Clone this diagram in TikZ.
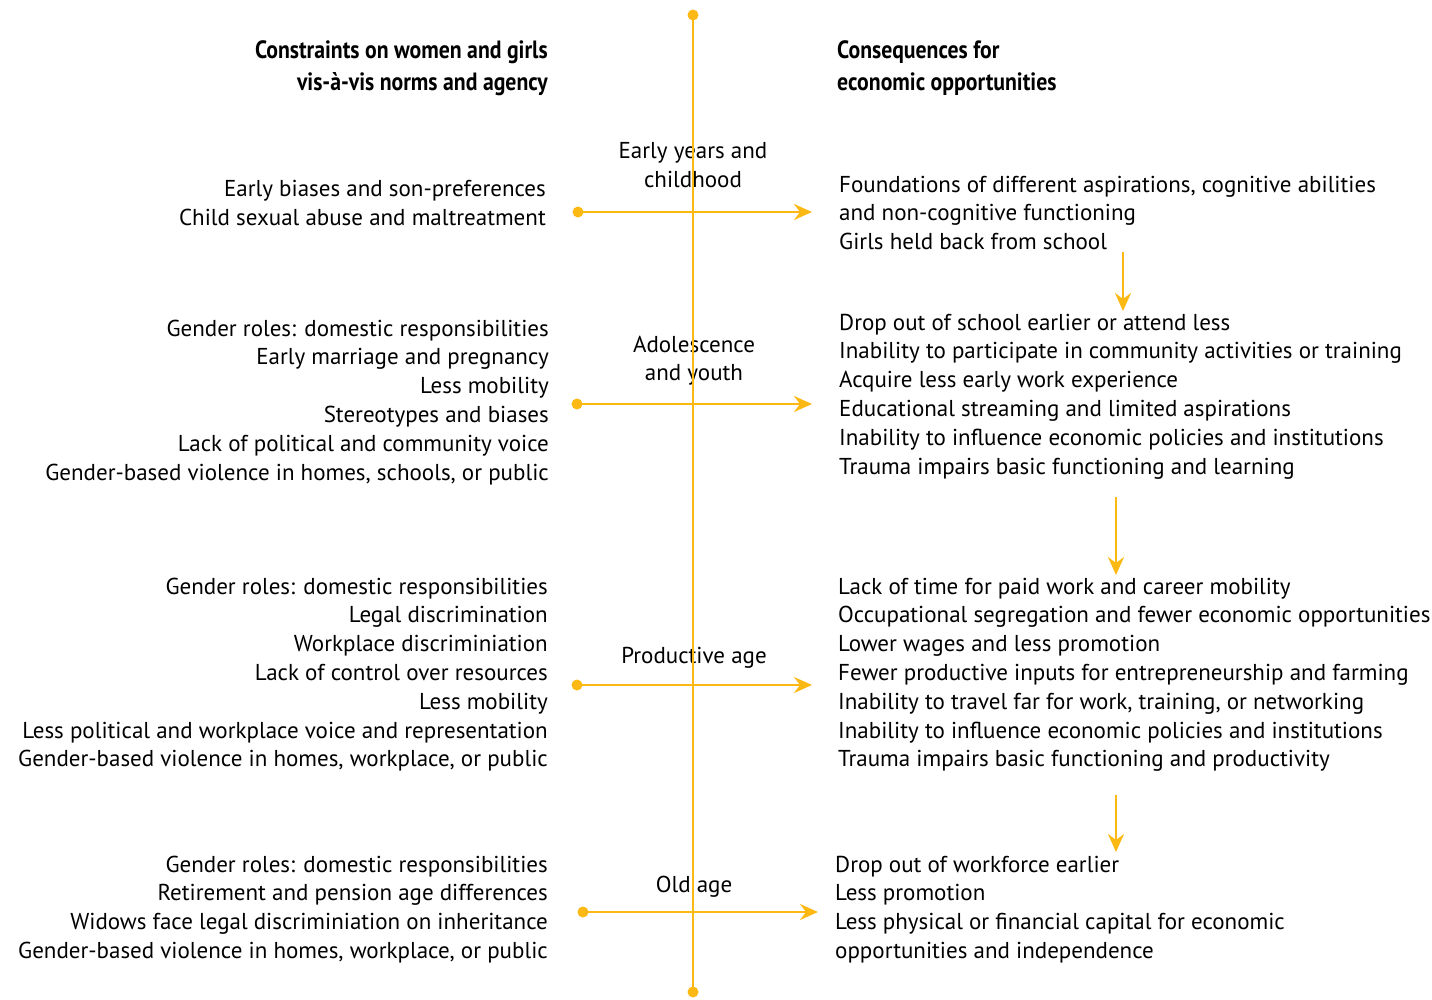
\documentclass[tikz,border=0pt]{standalone}
\usepackage{fontspec}
\setmainfont{PT Sans}
\newfontfamily\headfont[FakeStretch=0.87]{PT Sans}
\usetikzlibrary{arrows.meta}
\definecolor{gold}{RGB}{253,185,19}
\tikzset{
  txt/.style={inner sep=0pt, font=\fontsize{23}{28}\selectfont},
  lt/.style={txt, anchor=base east},
  rt/.style={txt, anchor=base west},
  stage/.style={txt, anchor=base},
  headl/.style={inner sep=0pt, anchor=base east, font=\headfont\bfseries\fontsize{25}{30}\selectfont},
  headr/.style={inner sep=0pt, anchor=base west, font=\headfont\bfseries\fontsize{25}{30}\selectfont},
  axis/.style={draw=gold, line width=2.6pt},
  arr/.style={axis, -{Stealth[length=18pt, width=16pt, inset=6pt]}},
  dot/.style={circle, fill=gold, inner sep=0pt, minimum size=11pt},
}
\begin{document}
\begin{tikzpicture}[x=1pt, y=-1pt]
\useasboundingbox (0,0) rectangle (1432,999);
% headers
\node[headl] (hl1) at (548,58) {Constraints on women and girls};
\node[headl] (hl2) at (548,90) {vis-à-vis norms and agency};
\node[headr] (hr1) at (837,58) {Consequences for};
\node[headr] (hr2) at (837,90) {economic opportunities};
% stage labels
\node[stage] (s1a) at (693,158) {Early years and};
\node[stage] (s1b) at (693,187) {childhood};
\node[stage] (s2a) at (694,352) {Adolescence};
\node[stage] (s2b) at (694,380) {and youth};
\node[stage] (s3) at (694,663) {Productive age};
\node[stage] (s4) at (694,892) {Old age};
% left texts
\foreach \t [count=\i from 0] in {{Early biases and son-preferences},{Child sexual abuse and maltreatment}}
  \node[lt] (La-\i) at ({546},{196.5+28.8*\i}) {\t};
\foreach \t [count=\i from 0] in {{Gender roles: domestic responsibilities},{Early marriage and pregnancy},{Less mobility},{Stereotypes and biases},{Lack of political and community voice},{Gender-based violence in homes, schools, or public}}
  \node[lt] (Lb-\i) at ({549},{336+28.8*\i}) {\t};
\foreach \t [count=\i from 0] in {{Gender roles: domestic responsibilities},{Legal discrimination},{Workplace discriminiation},{Lack of control over resources},{Less mobility},{Less political and workplace voice and representation},{Gender-based violence in homes, workplace, or public}}
  \node[lt] (Lc-\i) at ({548},{594+28.83*\i}) {\t};
\foreach \t [count=\i from 0] in {{Gender roles: domestic responsibilities},{Retirement and pension age differences},{Widows face legal discriminiation on inheritance},{Gender-based violence in homes, workplace, or public}}
  \node[lt] (Ld-\i) at ({548},{872+28.8*\i}) {\t};
% right texts
\foreach \t [count=\i from 0] in {{Foundations of different aspirations, cognitive abilities},{and non-cognitive functioning},{Girls held back from school}}
  \node[rt] (Ra-\i) at ({839},{192+28.8*\i}) {\t};
\foreach \t [count=\i from 0] in {{Drop out of school earlier or attend less},{Inability to participate in community activities or training},{Acquire less early work experience},{Educational streaming and limited aspirations},{Inability to influence economic policies and institutions},{Trauma impairs basic functioning and learning}}
  \node[rt] (Rb-\i) at ({839},{330+28.8*\i}) {\t};
\foreach \t [count=\i from 0] in {{Lack of time for paid work and career mobility},{Occupational segregation and fewer economic opportunities},{Lower wages and less promotion},{Fewer productive inputs for entrepreneurship and farming},{Inability to travel far for work, training, or networking},{Inability to influence economic policies and institutions},{Trauma impairs basic functioning and productivity}}
  \node[rt] (Rc-\i) at ({838},{594+28.83*\i}) {\t};
\foreach \t [count=\i from 0] in {{Drop out of workforce earlier},{Less promotion},{Less physical or financial capital for economic},{opportunities and independence}}
  \node[rt] (Rd-\i) at ({835},{872+28.8*\i}) {\t};
% vertical axis
\node[dot] (vtop) at (693,15) {};
\node[dot] (vbot) at (693,992) {};
\draw[axis] (vtop.center) -- (vbot.center);
% horizontal arrows
\node[dot] (d1) at (578,212) {};
\coordinate (t1) at (812,212);
\draw[arr] (d1.center) -- (t1);
\node[dot] (d2) at (577,404) {};
\coordinate (t2) at (812,404);
\draw[arr] (d2.center) -- (t2);
\node[dot] (d3) at (577,685) {};
\coordinate (t3) at (812,685);
\draw[arr] (d3.center) -- (t3);
\node[dot] (d4) at (583,912) {};
\coordinate (t4) at (818,912);
\draw[arr] (d4.center) -- (t4);
% down arrows
\coordinate (a1s) at (1123,252);
\coordinate (a1e) at (1123,311);
\draw[arr] (a1s) -- (a1e);
\coordinate (a2s) at (1116,497);
\coordinate (a2e) at (1116,575);
\draw[arr] (a2s) -- (a2e);
\coordinate (a3s) at (1116,795);
\coordinate (a3e) at (1116,852);
\draw[arr] (a3s) -- (a3e);
\end{tikzpicture}
\end{document}
